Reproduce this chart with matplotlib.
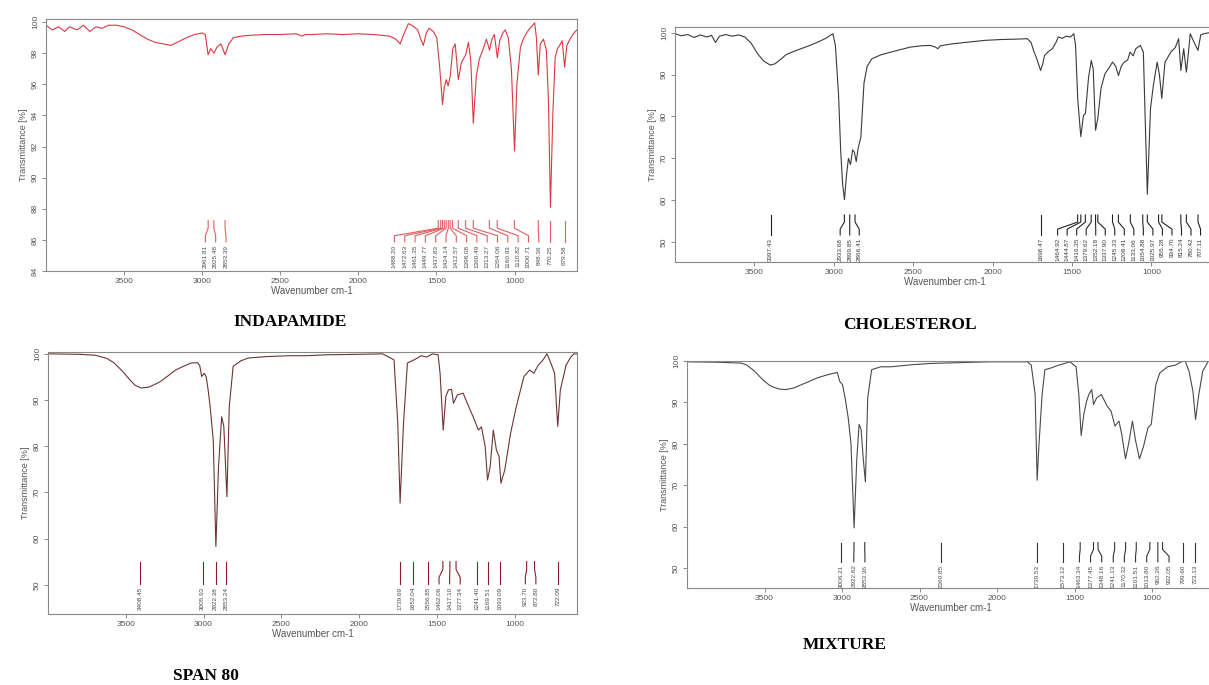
import numpy as np
import matplotlib
matplotlib.use("Agg")
import matplotlib.pyplot as plt

plt.rcParams['font.family'] = ['Liberation Sans', 'DejaVu Sans']

# ---- spectra (wavenumber cm-1, transmittance %) ----
ind_wn = [
    4000, 3960, 3920, 3880, 3850, 3800, 3760, 3720, 3680, 3640,
    3600, 3550, 3500, 3450, 3400, 3350, 3300, 3250, 3200, 3180,
    3150, 3100, 3050, 3000, 2980, 2962, 2945, 2925, 2905, 2880,
    2853, 2830, 2800, 2750, 2700, 2600, 2500, 2400, 2360, 2340,
    2300, 2200, 2100, 2000, 1900, 1800, 1760, 1732, 1710, 1680,
    1658, 1620, 1600, 1584, 1565, 1547, 1520, 1498, 1480, 1461,
    1450, 1437, 1425, 1412, 1395, 1380, 1360, 1340, 1313, 1295,
    1280, 1264, 1245, 1226, 1200, 1180, 1160, 1145, 1129, 1110,
    1095, 1075, 1060, 1040, 1020, 1000, 985, 962, 940, 910,
    871, 860, 848, 835, 815, 796, 783, 770, 755, 740,
    725, 711, 695, 679, 665, 640, 620, 600]
ind_t = [
    99.8, 99.5, 99.7, 99.4, 99.7, 99.5, 99.8, 99.4, 99.7, 99.6,
    99.8, 99.8, 99.7, 99.5, 99.2, 98.9, 98.7, 98.6, 98.5, 98.6,
    98.75, 99.0, 99.2, 99.3, 99.2, 97.9, 98.3, 98.0, 98.4, 98.6,
    97.9, 98.6, 99.0, 99.1, 99.15, 99.2, 99.2, 99.25, 99.1, 99.2,
    99.2, 99.25, 99.2, 99.25, 99.2, 99.1, 98.9, 98.6, 99.2, 99.9,
    99.8, 99.5, 98.9, 98.5, 99.3, 99.6, 99.4, 99.0, 97.2, 94.7,
    95.8, 96.3, 95.9, 96.5, 98.3, 98.6, 96.3, 97.4, 97.9, 98.7,
    97.5, 93.5, 96.5, 97.6, 98.3, 98.9, 98.2, 98.9, 99.2, 97.7,
    98.8, 99.3, 99.5, 99.0, 97.0, 91.7, 96.0, 98.4, 99.0, 99.5,
    99.95, 99.0, 96.6, 98.6, 98.9, 98.2, 95.0, 88.1, 94.0, 97.7,
    98.3, 98.5, 98.8, 97.1, 98.5, 99.0, 99.3, 99.5]

chol_wn = [
    4000, 3960, 3920, 3880, 3840, 3800, 3770, 3745, 3720, 3680,
    3640, 3600, 3560, 3520, 3480, 3440, 3400, 3370, 3340, 3300,
    3250, 3200, 3150, 3100, 3050, 3006, 2990, 2970, 2957, 2945,
    2933, 2920, 2908, 2895, 2882, 2871, 2859, 2847, 2830, 2810,
    2790, 2761, 2700, 2640, 2580, 2517, 2450, 2394, 2360, 2345,
    2330, 2250, 2150, 2050, 1950, 1850, 1783, 1759, 1740, 1722,
    1698, 1685, 1673, 1650, 1624, 1600, 1587, 1560, 1538, 1510,
    1489, 1478, 1464, 1445, 1428, 1416, 1396, 1379, 1367, 1352,
    1338, 1318, 1293, 1270, 1245, 1225, 1208, 1190, 1172, 1150,
    1135, 1115, 1099, 1070, 1051, 1040, 1026, 1006, 988, 964,
    950, 935, 915, 878, 850, 829, 815, 797, 780, 768,
    756, 735, 707, 690, 670, 640, 600]
chol_t = [
    99.8, 99.3, 99.6, 98.9, 99.5, 99.0, 99.4, 97.7, 99.2, 99.6,
    99.2, 99.5, 99.0, 97.5, 95.0, 93.2, 92.3, 92.6, 93.5, 94.8,
    95.6, 96.3, 97.0, 97.8, 98.7, 99.8, 97.0, 85.0, 72.0, 64.0,
    60.1, 66.0, 70.0, 68.5, 72.0, 71.5, 69.2, 72.4, 75.0, 88.0,
    92.0, 93.8, 94.8, 95.4, 96.0, 96.6, 96.9, 97.0, 96.6, 96.2,
    96.9, 97.4, 97.8, 98.2, 98.4, 98.5, 98.6, 97.8, 95.5, 93.8,
    91.0, 92.5, 94.6, 95.5, 96.2, 97.8, 99.0, 98.7, 99.2, 99.0,
    99.8, 97.0, 84.0, 75.2, 80.3, 80.7, 89.4, 93.4, 91.4, 76.7,
    79.5, 86.7, 90.2, 91.5, 93.0, 92.0, 89.8, 92.0, 93.0, 93.5,
    95.4, 94.5, 96.2, 97.0, 95.4, 80.0, 61.4, 81.9, 87.5, 93.0,
    90.0, 84.3, 93.0, 95.4, 96.5, 98.6, 91.0, 96.2, 90.6, 95.0,
    99.8, 98.0, 95.8, 99.5, 99.8, 100.0, 99.6]

span_wn = [
    4000, 3800, 3697, 3620, 3574, 3520, 3475, 3440, 3401, 3352,
    3300, 3278, 3230, 3180, 3130, 3081, 3040, 3025, 3012, 2995,
    2983, 2970, 2958, 2938, 2921, 2904, 2884, 2870, 2850, 2835,
    2810, 2760, 2712, 2600, 2450, 2342, 2200, 2000, 1850, 1776,
    1752, 1737, 1715, 1690, 1653, 1620, 1603, 1567, 1530, 1493,
    1480, 1460, 1443, 1426, 1406, 1394, 1369, 1332, 1296, 1259,
    1234, 1214, 1190, 1175, 1158, 1138, 1118, 1101, 1089, 1064,
    1027, 990, 941, 904, 878, 850, 818, 793, 768, 744,
    724, 707, 670, 640, 620, 600]
span_t = [
    100.0, 99.9, 99.7, 99.0, 98.0, 96.2, 94.4, 93.2, 92.6, 92.8,
    93.6, 94.0, 95.2, 96.5, 97.3, 98.0, 98.1, 97.5, 95.1, 95.8,
    95.0, 92.0, 88.6, 81.4, 58.3, 75.6, 86.4, 84.3, 69.1, 88.6,
    97.3, 98.5, 99.1, 99.4, 99.6, 99.6, 99.8, 99.9, 100.0, 98.7,
    85.0, 67.7, 85.0, 98.0, 98.6, 99.2, 99.6, 99.3, 100.0, 99.8,
    95.8, 83.5, 90.8, 92.2, 92.3, 89.3, 91.1, 91.5, 88.6, 85.7,
    83.5, 84.2, 79.9, 72.7, 75.6, 83.5, 79.2, 77.8, 72.0, 74.9,
    82.8, 88.6, 95.1, 96.5, 95.8, 97.5, 98.7, 100.0, 98.0, 95.8,
    84.3, 92.2, 97.6, 99.3, 100.0, 100.0]

mix_wn = [
    4000, 3800, 3650, 3613, 3563, 3512, 3470, 3437, 3400, 3362,
    3310, 3261, 3210, 3161, 3110, 3060, 3030, 3015, 2997, 2980,
    2960, 2942, 2922, 2905, 2890, 2877, 2862, 2849, 2834, 2809,
    2750, 2683, 2550, 2432, 2250, 2055, 1900, 1804, 1779, 1754,
    1741, 1729, 1709, 1691, 1653, 1603, 1565, 1528, 1490, 1472,
    1457, 1440, 1422, 1407, 1389, 1377, 1357, 1327, 1289, 1264,
    1239, 1213, 1196, 1171, 1151, 1126, 1106, 1081, 1056, 1026,
    1005, 975, 950, 900, 849, 811, 786, 761, 736, 719,
    698, 673, 636, 600]
mix_t = [
    99.8, 99.7, 99.5, 99.0, 97.5, 95.5, 94.2, 93.6, 93.2, 93.1,
    93.5, 94.3, 95.1, 95.9, 96.5, 97.0, 97.2, 95.1, 94.3, 91.1,
    86.3, 80.0, 59.7, 76.0, 84.7, 83.5, 76.0, 70.8, 91.1, 97.9,
    98.6, 98.6, 99.1, 99.4, 99.6, 99.8, 99.8, 99.8, 99.0, 91.9,
    71.2, 80.0, 91.9, 97.9, 98.3, 99.0, 99.4, 99.8, 98.6, 91.9,
    82.0, 87.1, 90.3, 91.9, 93.1, 89.5, 91.1, 91.9, 89.1, 87.9,
    84.3, 85.5, 82.4, 76.4, 80.0, 85.5, 80.8, 76.4, 79.2, 83.9,
    84.7, 94.3, 97.1, 98.6, 99.0, 99.8, 100.0, 97.5, 92.7, 85.9,
    91.9, 97.5, 100.0, 99.5]

# ---- peak picks (labels) ----
ind_peaks = [2961.81, 2925.48, 2853.39, 1488.20, 1472.63, 1461.35, 1449.77,
             1437.83, 1424.14, 1412.57, 1398.08, 1360.49, 1313.27, 1264.06,
             1160.93, 1110.82, 1000.71, 848.36, 770.25, 679.58]
chol_peaks = [3397.43, 2933.68, 2899.85, 2866.41, 1698.47, 1464.92, 1444.87,
              1416.35, 1379.62, 1352.18, 1337.90, 1245.33, 1208.41, 1133.06,
              1054.88, 1025.97, 955.28, 934.70, 815.24, 780.42, 707.11]
span_peaks = [3408.45, 3005.93, 2922.38, 2853.24, 1739.69, 1652.04, 1556.85,
              1462.06, 1417.10, 1377.34, 1241.40, 1169.51, 1093.09, 923.70,
              872.80, 722.09]
mix_peaks = [3006.21, 2922.62, 2853.36, 2360.85, 1739.53, 1573.12, 1463.34,
             1377.45, 1348.16, 1241.13, 1170.32, 1101.51, 1013.80, 962.26,
             932.05, 799.60, 723.13]

W, H = 1209, 685
fig = plt.figure(figsize=(W / 100, H / 100), dpi=100)


def box(l, t, r, b):
    return [l / W, 1 - b / H, (r - l) / W, (b - t) / H]


def spread(peaks, gap, lo, hi):
    # push label positions apart (pool adjacent blocks), in -wn so it increases
    pk = sorted(peaks, reverse=True)
    u = [-p for p in pk]
    blocks = []
    for i, v in enumerate(u):
        blocks.append([i, 1, v])
        while len(blocks) > 1:
            a, b = blocks[-2], blocks[-1]
            if a[2] / a[1] + gap * a[1] > b[2] / b[1]:
                a[2] += b[2] - gap * (b[0] - a[0]) * b[1]
                a[1] += b[1]
                blocks.pop()
            else:
                break
    x = np.empty(len(u))
    for s, n, tot in blocks:
        x[s:s + n] = tot / n + gap * np.arange(n)
    x[-1] = min(x[-1], -lo)
    for i in range(len(x) - 2, -1, -1):
        x[i] = min(x[i], x[i + 1] - gap)
    x[0] = max(x[0], -hi)
    for i in range(1, len(x)):
        x[i] = max(x[i], x[i - 1] + gap)
    return pk, -x


def panel(rect, wn, t, color, ylim, yticks, peaks, gap, lo, lcolor, tcolor, fcolor='#888888'):
    ax = fig.add_axes(rect)
    ax.plot(wn, t, color=color, lw=0.8)
    ax.set_xlim(4000, 600)
    ax.set_ylim(*ylim)
    ax.set_xticks([3500, 3000, 2500, 2000, 1500, 1000])
    ax.set_yticks(yticks)
    ax.tick_params(direction='out', length=3, width=0.6, color='#777777',
                   labelsize=6, labelcolor='#555555', pad=2)
    ax.tick_params(axis='y', labelrotation=90)
    for lab in ax.get_yticklabels():
        lab.set_va('center')
    for s in ax.spines.values():
        s.set_color(fcolor)
        s.set_linewidth(0.8)
    ax.set_xlabel('Wavenumber cm-1', fontsize=7, color='#555555', labelpad=1)
    ax.set_ylabel('Transmittance [%]', fontsize=6.5, color='#555555', labelpad=3)

    tr = ax.get_xaxis_transform()
    pk, lx = spread(peaks, gap, lo, 3950)
    for p, q in zip(pk, lx):
        ax.plot([p, p, q, q], [0.20, 0.17, 0.14, 0.115], transform=tr,
                color=lcolor, lw=0.8, clip_on=False)
        ax.text(q, 0.103, f'{p:.2f}', transform=tr, rotation=90, ha='center',
                va='top', fontsize=4.6, color=tcolor)
    return ax


panel(box(46, 19, 577, 271), ind_wn, ind_t, '#d93a40', (84, 100.2),
      np.arange(84, 101, 2), ind_peaks, 66, 650, '#e06060', '#4a4a4a', '#8a8a8a')
panel(box(675, 27, 1215, 262), chol_wn, chol_t, '#3a3a3a', (45.2, 101.4),
      [50, 60, 70, 80, 90, 100], chol_peaks, 60, 560, '#222222', '#3a3a3a')
panel(box(48, 352, 577, 614), span_wn, span_t, '#6e3434', (43.7, 100.4),
      [50, 60, 70, 80, 90, 100], span_peaks, 68, 650, '#8b1c2c', '#4a4a4a')
panel(box(687, 361, 1214, 588), mix_wn, mix_t, '#4a4a4a', (45.2, 100.0),
      [50, 60, 70, 80, 90, 100], mix_peaks, 72, 640, '#333333', '#4a4a4a')

tkw = dict(ha='center', va='center', fontsize=12.5, fontweight='bold',
           family=['Liberation Serif', 'DejaVu Serif'])
fig.text(290 / W, 1 - 322 / H, 'INDAPAMIDE', **tkw)
fig.text(910 / W, 1 - 325 / H, 'CHOLESTEROL', **tkw)
fig.text(206 / W, 1 - 676 / H, 'SPAN 80', **tkw)
fig.text(845 / W, 1 - 645 / H, 'MIXTURE', **tkw)

fig.savefig('out.png', dpi=100)
